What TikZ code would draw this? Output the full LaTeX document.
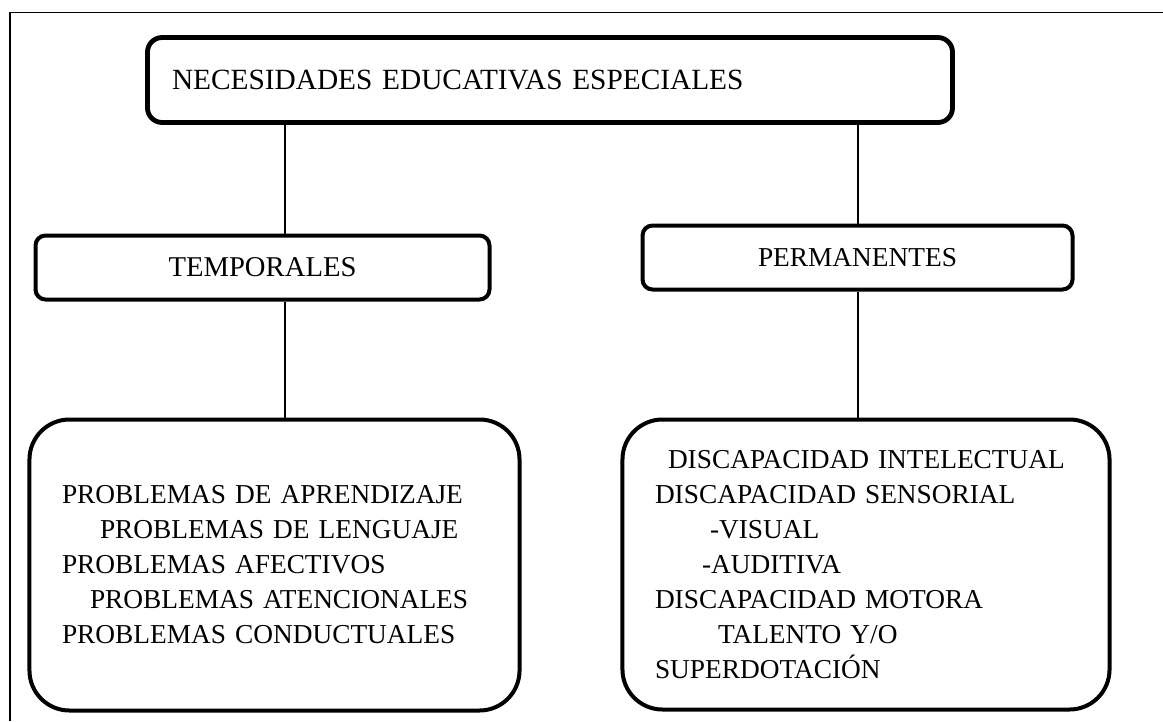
\documentclass[tikz,border=0pt]{standalone}
\usepackage{fontspec}
\setmainfont{Liberation Serif}
\begin{document}
\begin{tikzpicture}[x=0.75pt, y=-0.75pt,
        caja/.style={draw, line width=3pt, rounded corners=7.5pt, inner sep=0pt,
            font=\fontsize{20.5pt}{26.25pt}\selectfont},
        cajagrande/.style={caja, rounded corners=30pt, align=left, inner xsep=24.4pt},
        conector/.style={line width=1pt}]
    \useasboundingbox (0,0) rectangle (1163,721);
    \draw[line width=1.4pt] (10,721) -- (10,12.5) -- (1163,12.5);% marco

    \node[caja, line width=3.6pt, rounded corners=11pt, text width=567pt, align=left,
        inner xsep=18.4pt, minimum height=63.75pt, font=\fontsize{22pt}{26pt}\selectfont]
        (nee) at (550,80) {NECESIDADES EDUCATIVAS ESPECIALES};

    \node[caja, minimum width=340.5pt, minimum height=48pt, font=\fontsize{21.5pt}{26pt}\selectfont]
        (temp) at (262.5,267.5) {TEMPORALES};
    \node[caja, minimum width=322.5pt, minimum height=48pt] (perm) at (857.5,257.5) {PERMANENTES};

    \node[cajagrande, text width=318.75pt, minimum height=218.25pt] (izq) at (274.5,565)
        {PROBLEMAS DE APRENDIZAJE\\
        \hspace*{28.5pt}PROBLEMAS DE LENGUAJE\\
        PROBLEMAS AFECTIVOS\\
        \hspace*{21pt}PROBLEMAS ATENCIONALES\\
        PROBLEMAS CONDUCTUALES};
    \node[cajagrande, text width=316.5pt, minimum height=217.5pt] (der) at (866,564.5)
        {\hspace*{9.75pt}DISCAPACIDAD INTELECTUAL\\
        DISCAPACIDAD SENSORIAL\\
        \hspace*{41.25pt}-VISUAL\\
        \hspace*{35.25pt}-AUDITIVA\\
        DISCAPACIDAD MOTORA\\
        \hspace*{47.25pt}TALENTO Y/O\\
        SUPERDOTACIÓN};

    \coordinate (xi) at (285,0);
    \coordinate (xd) at (858,0);
    \draw[conector] (nee.south -| xi) -- (temp.north -| xi);
    \draw[conector] (temp.south -| xi) -- (izq.north -| xi);
    \draw[conector] (nee.south -| xd) -- (perm.north -| xd);
    \draw[conector] (perm.south -| xd) -- (der.north -| xd);
\end{tikzpicture}
\end{document}
